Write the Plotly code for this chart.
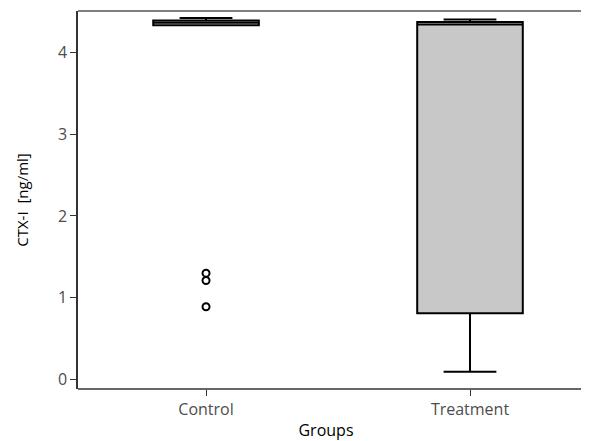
import plotly.graph_objects as go

groups = ["Control", "Treatment"]
x_pos = [0, 1]
q1 = [4.33, 0.81]
median = [4.36, 4.34]
q3 = [4.39, 4.37]
lowerfence = [4.33, 0.095]
upperfence = [4.42, 4.40]
fills = ["white", "#c8c8c8"]

outlier_group = [0, 0, 0]
outlier_values = [1.30, 1.21, 0.89]

fig = go.Figure()
for i in range(len(groups)):
    fig.add_trace(go.Box(
        x=[x_pos[i]], q1=[q1[i]], median=[median[i]], q3=[q3[i]],
        lowerfence=[lowerfence[i]], upperfence=[upperfence[i]],
        width=0.4, whiskerwidth=0.5, fillcolor=fills[i],
        line=dict(color="black", width=2), boxpoints=False,
        showlegend=False, hoverinfo="skip",
    ))
fig.add_trace(go.Scatter(
    x=outlier_group, y=outlier_values, mode="markers",
    marker=dict(symbol="circle-open", size=7, color="black", line=dict(width=2)),
    showlegend=False, hoverinfo="skip",
))

frame_right = (581 - 78) / (594 - 78 - 20)
fig.update_layout(
    width=594, height=441,
    margin=dict(l=78, r=20, t=11, b=52),
    paper_bgcolor="white", plot_bgcolor="white",
    font=dict(family="Open Sans", size=16, color="#4d4d4d"),
    shapes=[
        dict(type="line", xref="paper", yref="paper", x0=0, x1=frame_right, y0=1, y1=1,
             line=dict(color="#555555", width=1.5)),
        dict(type="line", xref="paper", yref="paper", x0=0, x1=frame_right, y0=0, y1=0,
             line=dict(color="#333333", width=1.5)),
    ],
)
fig.update_xaxes(
    range=[-0.485, 1.394], tickvals=x_pos, ticktext=groups,
    showgrid=False, zeroline=False, showline=False, automargin=False,
    ticks="outside", ticklen=6, tickcolor="#333333",
    title=dict(text="Groups", font=dict(color="black", size=16), standoff=7),
)
fig.update_yaxes(
    range=[-0.116, 4.505], tickvals=[0, 1, 2, 3, 4],
    showgrid=False, zeroline=False, mirror=False, automargin=False,
    showline=True, linecolor="#333333", linewidth=1.5,
    ticks="outside", ticklen=6, tickcolor="#333333",
    title=dict(text="CTX-I  [ng/ml]", font=dict(color="black", size=15), standoff=26),
)
fig.write_html(
    "out.html",
    config={"displayModeBar": False},
    post_script=("document.documentElement.style.overflow='hidden';"
                 "document.body.style.margin='0';document.body.style.overflow='hidden';"),
)
